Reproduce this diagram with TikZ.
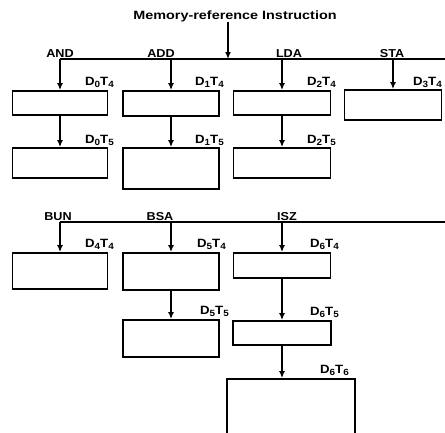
\documentclass[tikz,border=0pt]{standalone}
\usepackage{fontspec}
\newfontfamily\figfont{Liberation Sans}[FakeStretch=1.1]
\newfontfamily\titlefont{Liberation Sans}[FakeStretch=1.2]
\usetikzlibrary{positioning,arrows.meta}
\newcommand{\stepsub}[1]{\raisebox{-0.45ex}{\fontsize{9}{10}\selectfont #1}}
\newcommand{\dt}[2]{D\stepsub{#1}T\stepsub{#2}}
\tikzset{
  flowarrow/.style={-{Latex[length=7pt,width=6pt]}, line width=1.7pt},
  busline/.style={line width=1.6pt},
  opbox/.style={draw, line width=1.8pt, inner sep=0pt},
  opname/.style={font=\figfont\bfseries\fontsize{11.5}{13}\selectfont, inner sep=0pt, anchor=base},
  steplabel/.style={font=\figfont\bfseries\fontsize{12}{14}\selectfont, inner sep=0pt, anchor=base west}
}

\begin{document}
\begin{tikzpicture}[x=1pt, y=-1pt, >=Latex]
  \useasboundingbox (0,0) rectangle (445,432);
  \node[font=\titlefont\bfseries\fontsize{12}{14}\selectfont, inner sep=0pt, anchor=base] (title) at (235,19) {Memory-reference Instruction};

  \coordinate (mrtap) at (228,59);
  \coordinate (andtap) at (60,59);
  \coordinate (addtap) at (171,59);
  \coordinate (ldatap) at (282,59);
  \coordinate (statap) at (393,59);
  \coordinate (busAend) at (452,59);
  \coordinate (buntap) at (60,222);
  \coordinate (bsatap) at (171,222);
  \coordinate (isztap) at (282,222);
  \coordinate (busBend) at (452,222);

  \node[opname] (andname) at (60,57) {AND};
  \node[opname] (addname) at (161,57) {ADD};
  \node[opname] (ldaname) at (289,57) {LDA};
  \node[opname] (staname) at (392,57) {STA};
  \node[opname] (bunname) at (58,220) {BUN};
  \node[opname] (bsaname) at (160,220) {BSA};
  \node[opname] (iszname) at (287,220) {ISZ};

  \node[opbox, minimum width=95pt, minimum height=24pt] (andA) at (60,103) {};
  \node[opbox, minimum width=96pt, minimum height=25pt] (addA) at (171,103.5) {};
  \node[opbox, minimum width=97pt, minimum height=24pt] (ldaA) at (282,103) {};
  \node[opbox, minimum width=97pt, minimum height=30pt] (staA) at (393,105) {};
  \node[opbox, minimum width=95pt, minimum height=30pt] (andB) at (60,163) {};
  \node[opbox, minimum width=96pt, minimum height=41pt] (addB) at (171,168.5) {};
  \node[opbox, minimum width=97pt, minimum height=30pt] (ldaB) at (282,163) {};

  \node[opbox, minimum width=95pt, minimum height=36pt] (bunA) at (60,271) {};
  \node[opbox, minimum width=96pt, minimum height=37pt] (bsaA) at (171,271.5) {};
  \node[opbox, minimum width=97pt, minimum height=25pt] (iszA) at (282,265.5) {};
  \node[opbox, minimum width=96pt, minimum height=37pt] (bsaB) at (171,338.5) {};
  \node[opbox, minimum width=98pt, minimum height=24pt] (iszB) at (282,333) {};
  \node[opbox, minimum width=128pt, minimum height=71pt] (iszC) at (291,414.5) {};

  \node[steplabel] (d0t4) at (85,85) {\dt{0}{4}};
  \node[steplabel] (d1t4) at (195,85) {\dt{1}{4}};
  \node[steplabel] (d2t4) at (307,85) {\dt{2}{4}};
  \node[steplabel] (d3t4) at (413,85) {\dt{3}{4}};
  \node[steplabel] (d0t5) at (85,143) {\dt{0}{5}};
  \node[steplabel] (d1t5) at (195,143) {\dt{1}{5}};
  \node[steplabel] (d2t5) at (307,143) {\dt{2}{5}};
  \node[steplabel] (d4t4) at (85,247) {\dt{4}{4}};
  \node[steplabel] (d5t4) at (197,247) {\dt{5}{4}};
  \node[steplabel] (d6t4) at (310,247) {\dt{6}{4}};
  \node[steplabel] (d5t5) at (200,314) {\dt{5}{5}};
  \node[steplabel] (d6t5) at (310,315) {\dt{6}{5}};
  \node[steplabel] (d6t6) at (320,373) {\dt{6}{6}};

  \draw[busline] (andtap) -- (busAend);
  \draw[busline] (buntap) -- (busBend);
  \draw[flowarrow] (title.south -| mrtap) -- (mrtap);

  \draw[flowarrow] (andtap) -- (andA);
  \draw[flowarrow] (addtap) -- (addA);
  \draw[flowarrow] (ldatap) -- (ldaA);
  \draw[flowarrow] (statap) -- (staA);
  \draw[flowarrow] (andA) -- (andB);
  \draw[flowarrow] (addA) -- (addB);
  \draw[flowarrow] (ldaA) -- (ldaB);

  \draw[flowarrow] (buntap) -- (bunA);
  \draw[flowarrow] (bsatap) -- (bsaA);
  \draw[flowarrow] (isztap) -- (iszA);
  \draw[flowarrow] (bsaA) -- (bsaB);
  \draw[flowarrow] (iszA) -- (iszB);
  \draw[flowarrow] (iszB.south) -- (iszB.south |- iszC.north);
\end{tikzpicture}
\end{document}
